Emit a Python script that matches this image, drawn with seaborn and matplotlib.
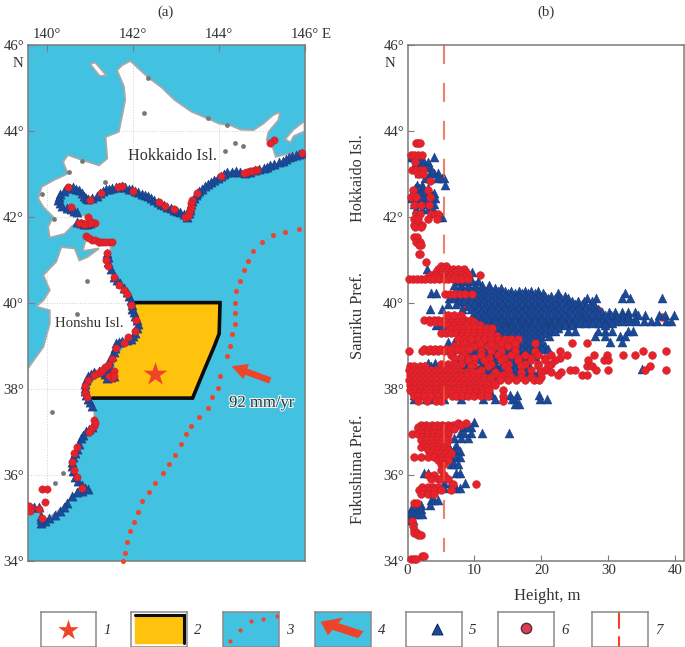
import pandas as pd
import matplotlib.pyplot as plt
import matplotlib.patheffects as pe
from matplotlib.patches import FancyArrow
import seaborn as sns

W, H = 685, 647

# ----- map outlines (lon, lat)
hokkaido_lon = [141.94, 142.13, 142.36, 142.67, 142.97, 143.36, 143.74, 144.01, 144.28, 144.51, 144.81, 145.04,
                145.27, 145.43, 145.39, 145.16, 145.12, 145.27, 145.33, 145.66, 146.0, 146.0, 145.50, 145.20,
                144.89, 144.62, 144.35, 144.12, 143.82, 143.51, 143.36, 143.28, 143.09, 142.74, 142.36, 141.98,
                141.67, 141.36, 141.13, 140.98, 140.75, 140.48, 140.29, 140.29, 140.56, 140.83, 140.98, 141.21,
                140.98, 140.71, 140.56, 140.41, 140.06, 140.02, 140.14, 139.91, 139.79, 139.87, 140.14, 140.48,
                140.37, 140.48, 140.83, 141.21, 141.40, 141.36, 141.67, 141.82, 141.79, 141.63, 141.75]
hokkaido_lat = [45.62, 45.44, 45.23, 45.00, 44.71, 44.44, 44.28, 44.16, 44.12, 44.02, 44.01, 44.16,
                44.36, 44.43, 44.24, 43.97, 43.78, 43.58, 43.39, 43.47, 43.50, 43.39, 43.23, 43.18,
                43.08, 43.00, 43.06, 43.02, 42.81, 42.57, 42.30, 41.99, 42.07, 42.26, 42.46, 42.61,
                42.71, 42.61, 42.46, 42.38, 42.65, 42.65, 42.50, 42.30, 42.15, 42.03, 41.99, 41.84,
                41.76, 41.88, 41.76, 41.60, 41.51, 41.76, 41.99, 42.22, 42.42, 42.69, 42.84, 43.00,
                43.27, 43.43, 43.31, 43.19, 43.35, 43.85, 43.97, 44.71, 45.02, 45.40, 45.52]
honshu_lon = [139.91, 140.21, 140.33, 140.64, 140.75, 140.94, 141.21, 140.83, 140.89, 141.52, 141.38, 141.56,
              141.79, 141.98, 142.13, 141.98, 141.63, 141.40, 141.56, 141.29, 140.98, 140.83, 140.94, 141.10,
              141.10, 140.98, 140.75, 140.56, 140.67, 140.97, 140.64, 140.37, 139.91, 139.83, 139.83, 139.56,
              139.54, 139.54, 139.60, 139.91, 140.06, 140.06, 139.74, 139.91, 140.06]
honshu_lat = [40.64, 40.95, 41.29, 41.26, 40.98, 41.06, 41.26, 41.20, 41.43, 41.41, 40.91, 40.60,
              40.29, 39.90, 39.51, 39.20, 39.09, 38.62, 38.27, 38.43, 38.27, 38.00, 37.73, 37.61,
              37.26, 37.03, 36.80, 36.26, 35.87, 35.67, 35.56, 35.25, 34.90, 34.86, 35.17, 35.17,
              35.17, 38.45, 38.54, 38.97, 39.51, 39.82, 39.91, 40.05, 40.29]
kuril_lon = [145.55, 145.74, 146.0, 146.0, 145.75, 145.67]
kuril_lat = [43.80, 44.02, 44.22, 43.98, 43.87, 43.72]
rishiri_lon = [141.00, 141.12, 141.38, 141.22]
rishiri_lat = [45.55, 45.58, 45.28, 45.27]
lake_lon = [142.25, 144.20, 144.37, 144.57, 144.14, 141.35, 140.92, 142.34, 143.74, 140.80, 140.51, 139.87, 140.15,
            140.69, 140.10, 140.37, 140.18]
lake_lat = [44.41, 44.12, 43.70, 43.65, 43.53, 42.81, 40.50, 45.23, 44.28, 43.29, 43.04, 42.52, 41.94,
            39.73, 37.46, 36.04, 35.81]

# source zone, epicentre, trench, plate motion
zone_lon = [142.05, 144.03, 144.01, 143.89, 143.66, 143.39, 141.06, 140.94, 141.13, 141.52, 141.59, 141.94, 142.09, 141.98]
zone_lat = [40.0, 40.0, 39.28, 38.97, 38.43, 37.78, 37.78, 37.96, 38.27, 38.23, 38.74, 39.12, 39.51, 39.90]
star_lon, star_lat = [142.51], [38.35]
trench_lon = [145.87, 145.54, 145.27, 145.02, 144.80, 144.69, 144.58, 144.50, 144.41, 144.38, 144.38, 144.38, 144.32,
              144.26, 144.19, 144.02, 143.98, 143.85, 143.75, 143.55, 143.36, 143.24, 143.11, 142.98, 142.84, 142.70,
              142.52, 142.38, 142.21, 142.11, 142.02, 141.93, 141.85, 141.81, 141.76]
trench_lat = [41.70, 41.65, 41.58, 41.41, 41.19, 40.97, 40.75, 40.50, 40.26, 40.00, 39.76, 39.51, 39.26,
              38.98, 38.75, 38.29, 38.02, 37.80, 37.56, 37.34, 37.14, 36.94, 36.71, 36.46, 36.24, 36.05,
              35.81, 35.60, 35.38, 35.13, 34.90, 34.68, 34.43, 34.19, 34.0]

# survey points along the coast
coast_tri_lon = [145.95, 145.88, 145.8, 145.72, 145.65, 145.58, 145.5, 145.4, 145.3, 145.2, 145.12, 145.05, 144.95,
                 144.85, 144.74, 144.62, 144.5, 144.4, 144.3, 144.2, 144.12, 144.05, 143.98, 143.9, 143.82, 143.75,
                 143.68, 143.6, 143.55, 143.5, 143.46, 143.42, 143.38, 143.35, 143.33, 143.32, 143.3, 143.25, 143.18,
                 143.1, 143.02, 142.95, 142.88, 142.8, 142.72, 142.65, 142.58, 142.5, 142.42, 142.35, 142.28, 142.2,
                 142.12, 142.05, 141.98, 141.9, 141.82, 141.75, 141.68, 141.6, 141.52, 141.45, 141.38, 141.3, 141.22,
                 141.15, 141.05, 140.95, 140.9, 140.85, 140.8, 140.75, 140.68, 140.6, 140.52, 140.45, 140.38, 140.3,
                 140.27, 140.25, 140.3, 140.35, 140.45, 140.55, 140.62, 140.7, 140.7, 140.78, 140.85, 140.92, 141.0,
                 141.4, 141.41, 141.42, 141.48, 141.55, 141.62, 141.7, 141.78, 141.85, 141.9, 141.95, 141.97, 141.98,
                 142.02, 142.05, 142.09, 142.12, 142.09, 142.05, 142.0, 141.95, 141.85, 141.75, 141.68, 141.6, 141.58,
                 141.55, 141.5, 141.45, 141.43, 141.42, 141.48, 141.55, 141.48, 141.4, 141.35, 141.3, 141.2, 141.1,
                 141.02, 140.95, 140.9, 140.87, 140.87, 140.88, 140.91, 140.95, 141.0, 141.05, 141.05, 140.98, 140.9,
                 140.84, 140.78, 140.74, 140.7, 140.65, 140.6, 140.58, 140.57, 140.6, 140.65, 140.72, 140.8, 140.88,
                 140.95, 140.82, 140.7, 140.58, 140.45, 140.38, 140.3, 140.18, 140.05, 139.95, 139.85, 139.85, 139.85,
                 139.8, 139.7, 139.6]
coast_tri_lat = [43.47, 43.45, 43.42, 43.4, 43.38, 43.33, 43.29, 43.27, 43.23, 43.19, 43.16, 43.13, 43.1,
                 43.08, 43.04, 43.01, 43.03, 43.05, 43.04, 43.03, 42.99, 42.95, 42.9, 42.85, 42.8, 42.75,
                 42.7, 42.65, 42.6, 42.55, 42.49, 42.42, 42.36, 42.3, 42.22, 42.15, 42.08, 42.0, 42.05,
                 42.1, 42.13, 42.16, 42.19, 42.22, 42.26, 42.3, 42.34, 42.38, 42.43, 42.47, 42.5, 42.53,
                 42.57, 42.6, 42.63, 42.65, 42.68, 42.7, 42.69, 42.68, 42.66, 42.65, 42.63, 42.6, 42.54,
                 42.47, 42.43, 42.4, 42.44, 42.48, 42.55, 42.62, 42.65, 42.68, 42.67, 42.66, 42.6, 42.52,
                 42.45, 42.38, 42.31, 42.25, 42.21, 42.17, 42.13, 42.1, 41.88, 41.84, 41.82, 41.83, 41.85,
                 41.15, 41.05, 40.95, 40.78, 40.6, 40.52, 40.45, 40.35, 40.25, 40.15, 40.05, 39.95, 39.85,
                 39.78, 39.7, 39.6, 39.5, 39.4, 39.3, 39.22, 39.15, 39.12, 39.1, 39.08, 39.05, 38.95,
                 38.85, 38.75, 38.65, 38.55, 38.45, 38.36, 38.3, 38.26, 38.25, 38.35, 38.42, 38.4, 38.38,
                 38.34, 38.3, 38.2, 38.1, 38.02, 37.95, 37.85, 37.75, 37.68, 37.6, 37.1, 37.05, 37.02,
                 36.93, 36.85, 36.72, 36.6, 36.5, 36.4, 36.3, 36.2, 36.08, 35.95, 35.85, 35.75, 35.7,
                 35.67, 35.63, 35.6, 35.5, 35.35, 35.25, 35.15, 35.07, 35.0, 34.93, 34.88, 34.96, 35.05,
                 35.25, 35.25, 35.25]
coast_circ_lon = [145.95, 145.28, 145.2, 144.9, 144.85, 144.78, 144.72, 144.66, 144.6, 144.05, 143.5, 143.38, 143.36, 143.35,
                  143.33, 143.3, 143.22, 143.28, 142.95, 142.75, 142.6, 142.0, 141.75, 141.65, 141.25, 141.0, 140.48, 140.55,
                  140.78, 140.85, 140.92, 141.12, 141.05, 141.0, 140.95, 140.85, 140.75, 141.2, 141.05, 140.9, 140.98, 141.12,
                  141.2, 141.28, 141.35, 141.44, 141.52, 141.4, 141.38, 141.42, 141.55, 141.68, 141.78, 141.85, 141.95, 142.08, 142.05,
                  141.88, 141.8, 141.6, 141.5, 141.55, 141.5, 141.45, 141.55, 141.25, 141.18, 141.1, 140.95, 140.87, 140.88,
                  140.92, 141.1, 141.08, 141.12, 141.02, 140.98, 140.7, 140.62, 140.58, 140.63, 140.7, 140.82, 139.87, 140.0, 139.95,
                  139.8, 139.62, 139.6, 139.57, 139.87, 141.42, 141.35, 141.28]
coast_circ_lat = [43.47, 43.78, 43.72, 43.08, 43.08, 43.07, 43.05, 43.03, 43.01, 42.95, 42.55, 42.38, 42.32, 42.22,
                  42.15, 42.08, 41.98, 42.02, 42.18, 42.25, 42.33, 42.6, 42.7, 42.69, 42.55, 42.38, 42.68, 42.22,
                  41.85, 41.82, 41.82, 41.85, 41.88, 41.85, 42.0, 41.82, 41.85, 41.4, 41.45, 41.55, 41.5, 41.46,
                  41.4, 41.4, 41.4, 41.41, 41.42, 41.15, 41.0, 40.85, 40.6, 40.4, 40.3, 40.2, 39.95, 39.6, 39.35,
                  39.2, 39.05, 38.95, 38.7, 38.42, 38.25, 38.3, 38.3, 38.38, 38.36, 38.32, 38.2, 38.05, 37.9,
                  37.8, 37.27, 37.12, 37.2, 37.05, 37.0, 36.65, 36.5, 36.3, 36.1, 35.95, 35.68, 35.66, 35.67, 35.37,
                  35.2, 35.22, 35.15, 35.28, 35.0, 38.55, 38.5, 38.44]

# ----- panel b, one row per latitude: heights in metres
tri_rows = [
    (43.38, [0.5, 1.0, 2.0, 3.9]), (43.28, [1.2, 1.8, 2.4, 3.0]), (43.15, [1.1, 1.9, 2.6, 3.3]),
    (43.02, [1.7, 2.5, 3.3, 4.0, 4.5]), (42.9, [2.6, 3.3, 4.4, 5.1, 5.5]), (42.74, [1.4, 2.1, 5.6]),
    (42.66, [1.1, 1.7, 2.3, 3.0]), (42.55, [0.7, 1.3, 2.0, 2.7, 3.4, 4.0]), (42.42, [0.4, 1.3, 2.0, 2.8, 3.6, 4.1]),
    (42.3, [1.0, 1.7, 2.5, 3.3, 4.0]), (42.17, [1.3, 2.1, 3.0, 3.8]), (42.0, [5.2, 4.6]),
    (40.78, [2.9]), (40.7, [5.0, 9.6]), (40.5, [7.4, 8.5, 9.6, 10.6]), (40.42, [7.0, 8.0, 9.0, 10.1, 11.1, 12.1]),
    (40.35, [8.0, 9.0, 10.1, 11.0, 12.1, 13.0, 14.0]),
    (40.28, [7.5, 8.5, 9.5, 10.6, 11.5, 12.5, 13.5, 14.5, 15.5, 16.6, 17.5, 18.5, 19.5]),
    (40.22, [3.5, 4.2, 7.0, 8.0, 9.1, 10.0, 11.0, 12.1, 13.0, 14.1, 15.0, 16.0, 17.1, 18.0, 19.0, 20.2, 22.5, 32.5]),
    (40.16, [6.7, 7.6, 8.5, 9.5, 10.5, 11.6, 12.5, 13.5, 14.6, 15.5, 16.5, 17.6, 18.5, 19.5, 20.6, 21.5, 22.5, 23.5]),
    (40.1, [6.2, 7.1, 8.0, 9.0, 10.1, 11.0, 12.0, 13.1, 14.0, 15.0, 16.1, 17.0, 18.0, 19.1, 20.0, 21.0, 22.1, 23.0,
            24.0, 26.8, 28.2, 32.0, 33.2, 38.0]),
    (40.03, [7.5, 8.5, 9.5, 10.6, 11.5, 12.5, 13.6, 14.5, 15.5, 16.6, 17.5, 18.5, 19.6, 20.5, 21.5, 22.6, 23.5, 24.5, 25.5, 26.4, 27.5]),
    (39.97, [6.0, 7.3, 10.0, 11.1, 12.0, 13.0, 14.1, 15.0, 16.0, 17.1, 18.0, 19.0, 20.1, 21.0, 22.0, 23.1, 24.0, 25.0, 26.1]),
    (39.91, [9.0, 10.5, 11.6, 12.5, 13.5, 14.6, 15.5, 16.5, 17.6, 18.5, 19.5, 20.6, 21.5, 22.5, 23.6, 24.5, 25.5, 26.6, 27.3, 28.0]),
    (39.85, [3.4, 5.2, 8.2, 9.5, 10.5, 11.5, 12.5, 13.5, 14.5, 15.5, 16.5, 17.5, 18.5, 19.5, 20.5, 21.5, 22.5, 23.5,
             24.5, 25.5, 26.5, 27.5, 28.5]),
    (39.78, [10.0, 11.0, 12.1, 13.0, 14.0, 15.1, 16.0, 17.0, 18.1, 19.0, 20.0, 21.1, 22.0, 23.0, 24.1, 25.0, 26.0, 27.1,
             28.0, 29.0, 30.1, 31.0, 32.0, 33.0, 34.0]),
    (39.72, [10.5, 11.4, 12.5, 13.5, 14.4, 15.5, 16.5, 17.4, 18.5, 19.5, 20.4, 21.5, 22.5, 23.4, 24.5, 25.5, 26.4, 27.5,
             28.5, 29.5, 30.4, 31.2, 32.0, 33.0, 34.5, 35.5, 37.5, 38.5, 39.8]),
    (39.65, [10.0, 11.0, 12.0, 13.1, 14.0, 15.0, 16.1, 17.0, 18.0, 19.1, 20.0, 21.0, 22.1, 23.0, 24.0, 25.1, 26.0, 27.0,
             28.1, 29.0, 30.0, 31.1, 32.0, 33.0, 34.0]),
    (39.58, [10.0, 11.0, 12.1, 13.0, 14.0, 15.1, 16.0, 17.0, 18.1, 19.0, 20.0, 21.1, 22.0, 23.0, 24.1, 25.0, 26.0, 27.1,
             28.0, 29.0, 30.1, 31.0, 32.0, 33.1, 34.2, 35.3, 36.3, 37.3, 38.6, 39.3]),
    (39.52, [11.5, 12.5, 13.6, 14.5, 15.5, 16.6, 17.5, 18.5, 19.6, 20.5, 21.5, 22.6, 23.5, 24.5, 25.6, 26.5, 27.5, 28.6, 29.5, 30.5]),
    (39.47, [4.3, 5.1, 12.5, 13.5, 14.5, 15.5, 16.5, 17.5, 18.5, 19.5, 20.5, 21.5, 22.5, 23.5, 24.5, 29.5]),
    (39.41, [12.5, 13.5, 14.6, 15.5, 16.5, 17.6, 18.5, 19.5, 20.6, 21.5, 22.5]),
    (39.35, [14.0, 15.1, 16.0, 17.0, 18.1, 19.0, 20.0, 21.1, 22.0, 24.0, 25.0, 28.5, 29.5, 30.5, 33.0, 33.7]),
    (39.29, [13.5, 14.5, 15.6, 16.5, 17.5, 18.6, 19.5, 20.5]),
    (39.23, [13.0, 14.0, 15.1, 16.0, 17.0, 18.1, 19.0, 20.0, 21.1, 28.0, 29.5, 31.8, 32.5]),
    (39.16, [9.5, 10.5, 11.6, 12.5, 13.5, 14.6, 15.5, 16.5, 17.6, 18.5, 19.5]),
    (39.08, [6.0, 7.0, 10.0, 11.1, 12.0, 13.0, 14.1, 15.0, 16.0, 17.1, 18.0, 19.0, 20.1, 30.2, 32.1]),
    (39.0, [9.5, 10.5, 11.6, 12.5, 13.5, 14.6, 15.5, 16.5, 17.6, 18.5, 19.5, 20.6]),
    (38.93, [9.0, 10.0, 11.1, 12.0, 13.0, 14.1, 15.0, 16.0, 17.1, 18.0, 19.0, 20.1, 21.0]),
    (38.85, [8.5, 9.5, 10.5, 11.6, 12.5, 13.5, 14.6, 15.5, 16.5, 17.6, 18.5, 19.5]),
    (38.77, [8.0, 9.1, 10.0, 11.0, 12.1, 13.0, 14.0, 15.1, 16.0, 17.0, 18.1, 19.0]),
    (38.68, [7.5, 8.5, 9.6, 10.5, 11.5, 12.6, 13.5, 14.5, 15.6, 16.5, 17.5]),
    (38.6, [3.0, 4.1, 9.0, 10.0, 11.1, 12.0, 13.0, 14.1, 15.0, 16.0, 17.1, 18.0]),
    (38.53, [2.5, 3.5, 6.0, 7.1, 8.0, 9.0, 10.1, 11.0, 12.0, 13.1, 14.0, 15.0, 16.1, 17.0, 18.0]),
    (38.46, [3.0, 4.0, 5.1, 6.0, 7.0, 8.1, 9.0, 10.0, 11.1, 12.0, 13.0, 14.1, 15.0, 16.0, 17.1, 18.0, 35.0]),
    (38.38, [10.5, 11.5, 12.6, 13.5, 14.5, 15.6, 16.5, 17.5, 18.6, 19.5]),
    (38.3, [10.0, 11.1, 12.0, 13.0, 14.1, 15.0, 16.0, 17.1, 18.0, 19.0]),
    (37.86, [0.9, 2.0, 3.0, 4.2, 5.2, 8.0, 12.6, 15.3, 16.3, 19.7]),
    (37.75, [0.9, 2.7, 3.6, 5.4, 8.0, 11.3, 13.0, 15.6, 16.1, 19.8, 20.9]),
    (37.65, [16.0, 16.6]),
    (37.22, [10.0]), (37.1, [8.5, 9.0, 9.5]), (36.97, [7.8, 8.5, 9.5, 11.1, 15.2]), (36.85, [6.0, 7.0, 8.0, 9.0]),
    (36.7, [4.5, 5.0, 6.0, 7.3]), (36.55, [6.8, 7.2, 7.8]), (36.4, [6.5, 7.2, 7.8]), (36.25, [6.5, 7.0, 7.5]),
    (36.05, [2.5, 3.0, 7.2, 7.8]), (35.8, [5.5, 6.5, 8.6]), (35.7, [3.5, 4.5, 5.5, 7.2, 7.8]),
    (35.4, [3.5, 4.0, 4.5]), (35.3, [1.3, 2.0, 3.3]), (35.2, [0.5, 1.0, 1.5, 2.0]),
    (35.08, [0.3, 1.0, 1.6, 2.2]), (34.95, [0.3, 0.8]),
]

# circles that lie under the triangles (northern Sanriku)
circ_under_rows = [
    (40.05, [22.8]), (39.82, [19.8, 28.5]), (39.66, [38.0]),
    (39.95, [8.5, 12.0, 16.5, 20.0, 24.0]), (39.6, [13.0, 18.0, 22.0, 26.0]),
]

# circles drawn on top
circ_rows = [
    (43.72, [1.3, 1.5, 1.8]), (43.42, [0.5, 1.0, 1.5, 2.1]), (43.28, [1.1]), (43.08, [0.7, 1.2, 1.8, 2.3]),
    (42.98, [1.5, 2.3]), (42.82, [3.4]), (42.62, [0.8, 3.0]), (42.45, [0.5, 1.2, 3.4]), (42.27, [1.0, 2.0, 3.2]),
    (42.05, [1.2, 1.9, 3.5, 4.1, 4.6]), (41.95, [1.0, 1.6, 3.0, 4.4]), (41.8, [0.9, 1.5, 2.2]), (41.75, [1.1, 2.0]),
    (41.53, [1.0, 1.4]), (41.42, [1.3, 1.8]), (41.33, [1.7, 2.0]), (41.13, [1.7, 1.9]), (40.95, [2.8]),
    (40.85, [5.0, 5.7]), (40.78, [4.6, 5.3, 6.0, 6.8, 7.6, 8.5]), (40.72, [4.2, 5.0, 5.7, 6.5, 7.2, 8.0, 8.8]),
    (40.65, [3.5, 4.3, 5.0, 5.8, 6.5, 7.3, 8.0, 9.0, 10.9]), (40.6, [3.0, 3.8, 4.6, 5.4, 6.2, 7.0, 7.8, 8.6]),
    (40.54, [0.2, 0.8, 1.4, 2.0, 2.6, 3.3, 4.0, 4.7, 5.4, 6.0, 6.8, 7.5, 8.2, 9.0]),
    (40.2, [5.6, 6.3, 7.0, 7.8, 8.6, 9.6]),
    (39.6, [2.5, 3.2, 3.9, 4.6, 5.4, 6.2, 7.0, 7.8, 8.6, 9.5]), (39.54, [3.4, 4.2, 5.0, 5.8, 6.6, 7.4, 8.2, 9.0, 10.0]),
    (39.72, [6.0, 7.0, 8.0]),
    (39.47, [6.0, 6.9, 7.8, 8.8, 9.8, 10.8]), (39.4, [6.5, 7.4, 8.3, 9.2, 10.1, 11.0, 11.8, 12.6]),
    (39.3, [5.0, 5.8, 6.5, 7.3, 8.2, 9.0, 9.9, 10.8, 11.7, 12.5]), (39.23, [8.0, 8.9, 9.8, 10.7, 11.6, 12.5, 13.4]),
    (39.15, [7.5, 8.5, 9.5, 10.5, 11.5, 12.5, 13.5, 14.5, 15.5, 16.5]), (39.0, [7.0, 8.0, 9.0, 10.0, 11.0, 12.0, 13.0, 14.0, 15.0, 16.0]),
    (39.05, [8.5, 10.8, 12.5, 14.0, 16.0, 19.0, 24.5, 26.8]),
    (38.88, [0.2, 2.2, 3.0, 3.8, 4.6, 5.4, 6.2, 7.0, 8.0, 11.0, 12.5, 14.0, 16.0, 19.0, 22.8, 35.2, 38.6]),
    (38.92, [2.5, 3.3, 4.1, 4.9, 5.7, 6.5, 7.4, 8.3, 9.2]),
    (38.78, [6.5, 8.5, 11.0, 13.5, 15.5, 17.5, 19.5, 21.5, 23.8, 27.8, 29.8, 32.2, 34.0, 36.5]),
    (38.72, [7.0, 8.0, 9.0, 10.0, 12.2, 14.4, 16.5, 18.5, 20.5, 22.8]),
    (38.66, [9.0, 11.5, 14.0, 16.5, 18.5, 20.5, 22.0, 27.0, 29.3, 30.0]),
    (38.58, [5.0, 6.0, 7.0, 8.0, 10.0, 12.5, 15.0, 17.5, 19.5, 21.5]),
    (38.52, [0.3, 1.0, 1.8, 2.6, 5.5, 7.2, 9.5, 12.0, 14.5, 17.0, 19.5, 21.0, 26.8, 27.6, 36.2]),
    (38.44, [0.2, 1.0, 1.8, 2.6, 3.5, 4.3, 5.2, 6.0, 6.8, 7.6, 11.0, 15.0, 18.5, 20.5, 24.3, 25.0, 28.2, 29.9, 35.5, 38.6]),
    (38.38, [0.6, 1.4, 2.2, 3.0, 3.9, 4.7, 5.6, 6.4, 7.2, 8.0, 8.9, 9.7, 10.5, 13.0, 17.0, 20.0, 21.5, 23.0]),
    (38.32, [0.3, 1.1, 1.9, 2.7, 3.6, 4.4, 5.2, 6.1, 6.9, 7.7, 8.6, 9.4, 13.5, 14.3, 15.2, 22.5, 26.0, 26.8]),
    (38.26, [0.7, 1.5, 2.3, 3.1, 4.0, 4.8, 5.6, 6.5, 7.3, 8.1, 9.0, 9.8, 10.7, 11.5, 12.4, 13.9, 15.5, 17.0, 18.5, 20.0]),
    (38.2, [0.2, 1.0, 1.8, 2.6, 3.5, 4.3, 5.1, 6.0, 6.8, 7.6, 8.5, 9.3, 10.2, 11.5, 12.5, 13.8, 15.0, 16.2, 17.5, 18.9, 19.7]),
    (38.14, [0.7, 1.5, 2.3, 3.1, 4.0, 4.8, 5.6, 6.5, 7.3, 8.1, 9.0, 9.8, 10.7, 11.6, 12.6]),
    (38.08, [0.3, 1.1, 1.9, 2.7, 3.6, 4.4, 5.2, 6.1, 6.9, 7.7, 8.6, 9.4, 10.3, 11.2, 12.0, 13.0]),
    (38.02, [0.7, 1.5, 2.3, 3.2, 4.0, 4.8, 5.7, 6.5, 7.3, 8.2, 9.0, 9.9, 10.8, 11.6]),
    (37.96, [0.3, 1.1, 1.9, 2.7, 3.6, 4.4, 5.2, 6.1, 6.9, 7.7, 8.6, 9.4, 10.3, 11.1, 12.2, 14.2]),
    (37.9, [0.8, 1.7, 2.5, 3.3, 4.2, 5.0, 5.9, 6.7, 7.6, 8.4, 9.3, 10.1, 11.0]),
    (37.84, [0.9, 1.6, 2.4, 3.4, 4.5, 5.4, 6.6, 7.3, 8.2, 9.0, 10.0, 11.0, 12.0, 14.3]),
    (37.72, [1.5, 2.9, 4.3, 5.0, 14.2]),
    (37.2, [7.6, 8.8]), (37.15, [2.0, 2.8, 3.6, 4.4, 5.2, 6.0, 6.8, 7.6, 8.0]), (37.1, [1.6, 2.4, 3.2, 4.0, 4.8, 5.6, 6.4]),
    (37.05, [1.5, 2.3, 3.1, 3.9, 4.7, 5.5, 6.3, 7.0]), (37.0, [1.8, 2.7, 3.5, 4.3, 5.1, 5.9]),
    (36.95, [0.6, 1.5, 2.3, 3.1, 3.9, 4.7, 5.5, 6.0]), (36.87, [2.2, 3.0, 3.8, 4.6, 5.4]), (36.8, [2.0, 2.8, 3.6, 4.4, 5.2, 6.0]),
    (36.72, [2.4, 3.2, 4.0, 4.9, 5.7]), (36.65, [2.0, 2.9, 3.7, 4.6, 5.5]), (36.57, [3.0, 3.8, 4.6, 5.3, 6.0]), (36.5, [3.5, 4.3, 5.0, 5.8, 6.5]),
    (36.42, [1.0, 2.0, 3.0, 4.0, 5.0, 6.0]), (36.33, [4.6, 5.3, 6.0]),
    (36.25, [5.0, 5.5]), (36.1, [5.0]), (36.0, [3.0, 4.0, 5.5]), (35.9, [3.5, 4.5, 5.0, 6.0]),
    (35.78, [6.8, 10.3]), (35.72, [2.2, 3.0, 3.8, 4.6]), (35.65, [1.7, 2.4, 3.2, 4.0, 5.0, 6.5]), (35.55, [2.0, 3.0, 4.0]),
    (35.35, [1.0, 1.4]), (34.93, [0.6]), (34.8, [0.8]), (34.72, [0.9]), (34.65, [1.0, 1.4]), (34.6, [1.5, 2.0]),
    (34.1, [2.2, 2.5]), (34.03, [0.5, 0.9, 1.2]),
]

threshold = [5.4, 5.4]
threshold_lat = [46, 34.2]
x_ticks_a = [140, 142, 144, 146]
y_ticks = [34, 36, 38, 40, 42, 44, 46]
x_ticks_b = [0, 10, 20, 30, 40]
legend_numbers = ['1', '2', '3', '4', '5', '6', '7']

SEA = '#43c1e0'
RED = '#ee4429'
GOLD = '#ffc30d'
NAVY = '#1b4a9c'
CRIM = '#e8222a'
GRAY = '#7b7b7b'
INK = '#333333'
TRI = dict(marker='^', color=NAVY, edgecolor='#1a3568', linewidth=0.3, legend=False)
CIRC = dict(marker='o', color=CRIM, edgecolor='#b81f2a', linewidth=0.3, legend=False)


def rows_to_frame(rows):
    return pd.DataFrame([{'lat': lat, 'height': h} for lat, hs in rows for h in hs])


def add_box(fig, left, top, right, bottom):
    return fig.add_axes([left / W, 1 - bottom / H, (right - left) / W, (bottom - top) / H])


sns.set_theme(style='ticks')
plt.rcParams['font.family'] = ['Liberation Serif', 'DejaVu Serif']
plt.rcParams['font.size'] = 10.7
plt.rcParams['text.color'] = INK
plt.rcParams['axes.labelcolor'] = INK
plt.rcParams['xtick.labelcolor'] = INK
plt.rcParams['ytick.labelcolor'] = INK

fig = plt.figure(figsize=(W / 100, H / 100), dpi=100)


def style_axis(ax):
    for side in ax.spines:
        ax.spines[side].set_color(GRAY)
        ax.spines[side].set_linewidth(1.1)
    ax.set_xlabel('')
    ax.set_ylabel('')
    ax.set_yticks(y_ticks, [f'{t}°' for t in y_ticks], fontsize=10.7)
    ax.tick_params(axis='both', direction='in', length=4, width=0.8, color=GRAY, pad=2.5)


# ----- panel a
ax = add_box(fig, 27.5, 44.5, 304.5, 560.7)
ax.set_facecolor(SEA)
land = []
for lon, lat in [(hokkaido_lon, hokkaido_lat), (honshu_lon, honshu_lat), (kuril_lon, kuril_lat), (rishiri_lon, rishiri_lat)]:
    land.append(ax.fill(lon, lat, facecolor='white', edgecolor='#a8a8a8', linewidth=1.3, zorder=1)[0])
for patch in land[:2]:
    for v in x_ticks_a[:3]:
        ax.axvline(v, color='#cfcfcf', lw=0.7, ls=':', zorder=1.5).set_clip_path(patch)
    for v in y_ticks:
        ax.axhline(v, color='#cfcfcf', lw=0.7, ls=':', zorder=1.5).set_clip_path(patch)

sns.scatterplot(x=lake_lon, y=lake_lat, color='#777777', s=12, linewidth=0, legend=False, ax=ax, zorder=2)

ax.fill(zone_lon, zone_lat, facecolor=GOLD, edgecolor='none', zorder=2)
ax.plot(zone_lon[:7], zone_lat[:7], color='#0c0c0c', lw=2.6, solid_joinstyle='miter', zorder=2.5)

sns.scatterplot(x=coast_tri_lon, y=coast_tri_lat, s=44, ax=ax, zorder=3, **TRI)
sns.scatterplot(x=coast_circ_lon, y=coast_circ_lat, s=28, ax=ax, zorder=4, **CIRC)
sns.scatterplot(x=trench_lon, y=trench_lat, color=RED, s=13, linewidth=0, legend=False, ax=ax, zorder=3, clip_on=False)
sns.scatterplot(x=star_lon, y=star_lat, marker='*', color=RED, s=320, linewidth=0, legend=False, ax=ax, zorder=5)

ax.add_patch(FancyArrow(145.20, 38.19, -0.90, 0.33, width=0.15, head_width=0.38, head_length=0.36,
                        length_includes_head=True, color=RED, linewidth=0, zorder=5))

ax.text(142.93, 43.41, 'Hokkaido Isl.', ha='center', va='center', zorder=6, fontsize=11.7)
ax.text(140.98, 39.52, 'Honshu Isl.', ha='center', va='center', zorder=6)
ax.text(145.0, 37.67, '92 mm/yr', ha='center', va='center', zorder=6, fontsize=12,
        path_effects=[pe.withStroke(linewidth=1.6, foreground='#e8f6fa')])

ax.set_xlim(139.54, 146)
ax.set_ylim(34, 46)
style_axis(ax)
ax.set_xticks(x_ticks_a, [f'{t}°' for t in x_ticks_a], fontsize=10.7)
ax.xaxis.tick_top()
ax.tick_params(axis='x', direction='in', length=4, width=0.8, color=GRAY, pad=2.5, top=True, bottom=False)
ax.tick_params(axis='y', left=True, right=False)
ax.set_title('(a)', fontsize=10.7, color=INK, x=0.5, y=1.0, pad=21)
ax.text(146.4, 46.24, 'E', ha='left', va='center', clip_on=False)
ax.text(139.33, 45.55, 'N', ha='center', va='center', clip_on=False)

# ----- panel b
bx = add_box(fig, 407.5, 44.5, 684, 560.7)
sns.scatterplot(data=rows_to_frame(circ_under_rows), x='height', y='lat', s=32, ax=bx, zorder=2, **CIRC)
sns.scatterplot(data=rows_to_frame(tri_rows), x='height', y='lat', s=42, ax=bx, zorder=3, **TRI)
sns.scatterplot(data=rows_to_frame(circ_rows), x='height', y='lat', s=32, ax=bx, zorder=4, clip_on=False, **CIRC)
sns.lineplot(x=threshold, y=threshold_lat, color='#e9573f', lw=1.5, estimator=None, sort=False, orient='y',
             dashes=(9.1, 9.1), ax=bx, zorder=5, alpha=0.75)

bx.set_xlim(0, 41.3)
bx.set_ylim(34, 46)
style_axis(bx)
bx.set_xticks(x_ticks_b, [str(t) for t in x_ticks_b], fontsize=10.7)
bx.tick_params(axis='both', top=False, right=False)
bx.set_xlabel('Height, m', fontsize=12, labelpad=2)
bx.xaxis.set_label_coords(0.505, -0.053)
bx.set_title('(b)', fontsize=10.7, color=INK, pad=21)
bx.text(-2.55, 45.55, 'N', ha='center', va='center', clip_on=False)
bx.text(-7.4, 42.9, 'Hokkaido Isl.', rotation=90, ha='center', va='center', clip_on=False, fontsize=11.6)
bx.text(-7.4, 39.69, 'Sanriku Pref.', rotation=90, ha='center', va='center', clip_on=False, fontsize=11.9)
bx.text(-7.4, 36.13, 'Fukushima Pref.', rotation=90, ha='center', va='center', clip_on=False, fontsize=11.9)

# ----- legend strip
boxes = [(41, 96), (131, 187), (223, 279), (315, 371), (406, 462), (498, 554), (592, 648)]
legend_axes = []
for (x0, x1), num in zip(boxes, legend_numbers):
    lx = add_box(fig, x0, 612, x1, 646.5)
    lx.set_xlim(0, 1)
    lx.set_ylim(0, 1)
    lx.set_xticks([])
    lx.set_yticks([])
    for side in lx.spines:
        lx.spines[side].set_color('#8a8a8a')
        lx.spines[side].set_linewidth(1.1)
    fig.text((x1 + 11) / W, 1 - 630 / H, num, style='italic', ha='center', va='center', fontsize=10.7)
    legend_axes.append(lx)

lx1, lx2, lx3, lx4, lx5, lx6, lx7 = legend_axes
lx1.scatter([0.49], [0.47], marker='*', color=RED, s=240, linewidth=0)
lx2.fill([0.07, 0.92, 0.92, 0.07], [0.1, 0.1, 0.88, 0.88], color=GOLD)
lx2.plot([0.07, 0.94, 0.94], [0.9, 0.9, 0.1], color='#0c0c0c', lw=2.2, solid_joinstyle='miter')
lx3.set_facecolor(SEA)
lx3.scatter([0.12, 0.3, 0.5, 0.71, 0.97], [0.16, 0.47, 0.74, 0.81, 0.88], color=RED, s=9, linewidth=0)
lx4.set_facecolor(SEA)
lx4.add_patch(FancyArrow(0.82, 0.34, -0.72, 0.38, width=0.22, head_width=0.58, head_length=0.3,
                         length_includes_head=True, color=RED, linewidth=0))
lx5.scatter([0.55], [0.5], marker='^', color=NAVY, edgecolor='#13264f', s=62, linewidth=0.7)
lx6.scatter([0.5], [0.53], marker='o', color='#dc3e52', edgecolor='#5a2a3a', s=55, linewidth=1)
lx7.plot([0.49, 0.49], [1, 0.54], color=RED, lw=1.5)
lx7.plot([0.49, 0.49], [0.28, 0], color=RED, lw=1.5)

fig.savefig('out.png', dpi=100)
